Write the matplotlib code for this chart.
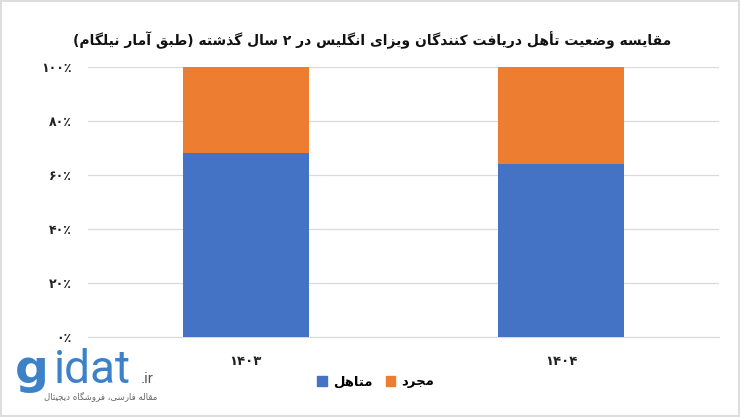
import re
import matplotlib
matplotlib.use("Agg")
import matplotlib.pyplot as plt
from matplotlib.patches import Patch

# data
years = ["۱۴۰۳", "۱۴۰۴"]
married = [68, 64]
single = [32, 36]
series_names = ["متاهل", "مجرد"]
y_ticks = [0, 20, 40, 60, 80, 100]
y_tick_labels = ["۰٪", "۲۰٪", "۴۰٪", "۶۰٪", "۸۰٪", "۱۰۰٪"]
title = "مقایسه وضعیت تأهل دریافت کنندگان ویزای انگلیس در ۲ سال گذشته (طبق آمار نیلگام)"

BLUE = "#4472C4"
ORANGE = "#ED7D31"

# Persian letters -> (isolated, final, initial, medial); right-joining letters have no ini/med
FORMS = {
    "ا": ("\uFE8D", "\uFE8E", None, None),
    "آ": ("\uFE81", "\uFE82", None, None),
    "أ": ("\uFE83", "\uFE84", None, None),
    "د": ("\uFEA9", "\uFEAA", None, None),
    "ذ": ("\uFEAB", "\uFEAC", None, None),
    "ر": ("\uFEAD", "\uFEAE", None, None),
    "ز": ("\uFEAF", "\uFEB0", None, None),
    "و": ("\uFEED", "\uFEEE", None, None),
    "ب": ("\uFE8F", "\uFE90", "\uFE91", "\uFE92"),
    "پ": ("\uFB56", "\uFB57", "\uFB58", "\uFB59"),
    "ت": ("\uFE95", "\uFE96", "\uFE97", "\uFE98"),
    "ج": ("\uFE9D", "\uFE9E", "\uFE9F", "\uFEA0"),
    "س": ("\uFEB1", "\uFEB2", "\uFEB3", "\uFEB4"),
    "ش": ("\uFEB5", "\uFEB6", "\uFEB7", "\uFEB8"),
    "ض": ("\uFEBD", "\uFEBE", "\uFEBF", "\uFEC0"),
    "ط": ("\uFEC1", "\uFEC2", "\uFEC3", "\uFEC4"),
    "ع": ("\uFEC9", "\uFECA", "\uFECB", "\uFECC"),
    "ف": ("\uFED1", "\uFED2", "\uFED3", "\uFED4"),
    "ق": ("\uFED5", "\uFED6", "\uFED7", "\uFED8"),
    "ل": ("\uFEDD", "\uFEDE", "\uFEDF", "\uFEE0"),
    "م": ("\uFEE1", "\uFEE2", "\uFEE3", "\uFEE4"),
    "ن": ("\uFEE5", "\uFEE6", "\uFEE7", "\uFEE8"),
    "ه": ("\uFEE9", "\uFEEA", "\uFEEB", "\uFEEC"),
    "ی": ("\uFBFC", "\uFBFD", "\uFBFE", "\uFBFF"),
    "ک": ("\uFB8E", "\uFB8F", "\uFB90", "\uFB91"),
    "گ": ("\uFB92", "\uFB93", "\uFB94", "\uFB95"),
}


def shape(text):
    """Join Persian letters and put the string in visual (left-to-right) order."""
    out = []
    for i, ch in enumerate(text):
        if ch not in FORMS:
            out.append(ch)
            continue
        iso, fin, ini, med = FORMS[ch]
        prev = text[i - 1] if i > 0 else ""
        nxt = text[i + 1] if i + 1 < len(text) else ""
        join_prev = prev in FORMS and FORMS[prev][2] is not None
        join_next = ini is not None and nxt in FORMS
        if join_prev and join_next:
            out.append(med)
        elif join_prev:
            out.append(fin)
        elif join_next:
            out.append(ini)
        else:
            out.append(iso)
    tokens = re.findall(r"[0-9۰-۹]+|.", "".join(out))
    mirror = {"(": ")", ")": "("}
    return "".join(mirror.get(t, t) for t in reversed(tokens))


plt.rcParams["font.family"] = ["DejaVu Sans"]

fig = plt.figure(figsize=(7.4, 4.17), dpi=100)
fig.patch.set_edgecolor("#dddddd")
fig.patch.set_linewidth(1.5)

ax = fig.add_axes([88 / 740, 1 - 337 / 417, (719 - 88) / 740, 270 / 417])
x = list(range(len(years)))
ax.bar(x, married, width=0.4, color=BLUE, zorder=3)
ax.bar(x, single, width=0.4, bottom=married, color=ORANGE, zorder=3)

ax.set_xlim(-0.5, 1.5)
ax.set_ylim(0, 100)
ax.set_yticks(y_ticks)
ax.set_yticklabels(y_tick_labels, fontsize=9, fontweight="bold", color="#222222")
ax.set_xticks(x)
ax.set_xticklabels(years, fontsize=9.5, fontweight="bold", color="#222222")
ax.tick_params(axis="y", length=0, pad=12)
ax.tick_params(axis="x", length=0, pad=13)
ax.grid(axis="y", color="#d9d9d9", linewidth=0.9, zorder=0)
for side in ["top", "right", "left"]:
    ax.spines[side].set_visible(False)
ax.spines["bottom"].set_color("#d9d9d9")

handles = [Patch(color=BLUE), Patch(color=ORANGE)]
fig.legend(handles, [shape(n) for n in series_names], loc="center",
           bbox_to_anchor=(376 / 740, 1 - 382 / 417), ncol=2, frameon=False,
           handlelength=0.7, handleheight=0.7, handletextpad=0.5,
           columnspacing=1.0, prop={"size": 9.5, "weight": "bold"})

fig.text(372 / 740, 1 - 40 / 417, shape(title), ha="center", va="center",
         fontsize=10, fontweight="bold", color="#111111")

# watermark logo
fig.text(15 / 740, 1 - 383 / 417, "g", fontsize=34, fontweight="bold",
         color="#3d82c8", va="baseline", family="DejaVu Sans")
fig.text(54 / 740, 1 - 383 / 417, "idat", fontsize=33, color="#3d82c8",
         va="baseline", family="Roboto")
fig.text(141 / 740, 1 - 383 / 417, ".ir", fontsize=11, color="#555555",
         va="baseline", family="Roboto")
fig.text(157 / 740, 1 - 396 / 417, shape("مقاله فارسی، فروشگاه دیجیتال"),
         ha="right", va="center", fontsize=6.2, color="#666666")

fig.savefig("out.png", dpi=100)
